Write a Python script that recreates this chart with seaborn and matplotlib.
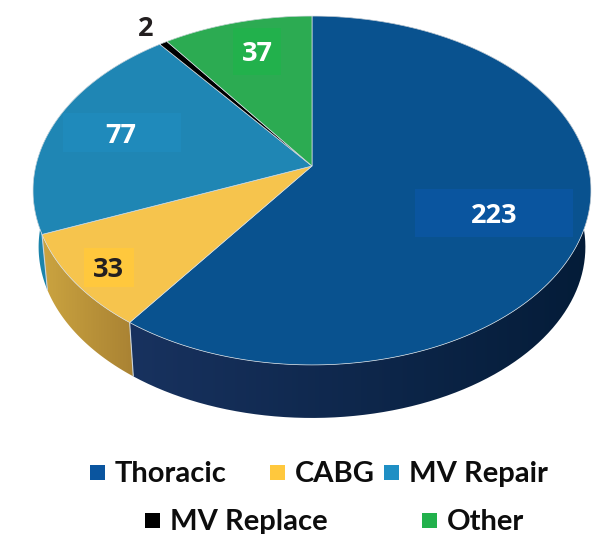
import numpy as np
import seaborn as sns
import matplotlib.pyplot as plt
from matplotlib.patches import Polygon, Rectangle

categories = ['Thoracic', 'CABG', 'MV Repair', 'MV Replace', 'Other']
values = [223, 33, 77, 2, 37]
value_labels = ['223', '33', '77', '2', '37']
top_colors = ['#09528f', '#f6c44d', '#1f86b4', '#000000', '#2cab52']
legend_colors = ['#0a559f', '#ffc83d', '#1f8fc4', '#000000', '#22b14c']
label_colors = ['white', '#231f20', 'white', '#231f20', 'white']
# wall gradient, left to right
wall_colors = [('#18325f', '#041c38'), ('#cba440', '#a98233'), ('#1c86ad', '#176f92'),
               ('#000000', '#000000'), ('#23883f', '#23883f')]

sns.set_theme(style='white')
plt.rcParams['font.family'] = ['Open Sans', 'DejaVu Sans']
palette = sns.color_palette(top_colors)

fig, ax = plt.subplots(figsize=(5.95, 5.34), dpi=100)
fig.subplots_adjust(0, 0, 1, 1)
ax.set_xlim(0, 595)
ax.set_ylim(534, 0)
ax.axis('off')

# perspective tilt of the disc
K, A, B = 0.1404, 276.2, 171.0


def project(deg, cx=312, cy=166, s=1.0):
    t = np.radians(deg)
    w = 1 + K * np.cos(t)
    return cx + s * A * np.sin(t) / w, cy - s * B * np.cos(t) / w


edges = np.concatenate([[0], np.cumsum(values)]) / sum(values) * 360

# side wall
for i in range(len(values)):
    t = np.linspace(edges[i], edges[i + 1], 120)
    x1, y1 = project(t)
    x2, y2 = project(t, cy=223, s=0.98)
    pts = np.r_[np.c_[x1, y1], np.c_[x2, y2][::-1]]
    left, right = wall_colors[i]
    cmap = sns.blend_palette([left, right], as_cmap=True)
    x0, x3 = pts[:, 0].min(), pts[:, 0].max()
    im = ax.imshow(np.linspace(0, 1, 256)[None, :], cmap=cmap, aspect='auto',
                   extent=(x0, x3, pts[:, 1].max(), pts[:, 1].min()), zorder=1)
    im.set_clip_path(Polygon(pts, transform=ax.transData))
    if i < 2:
        ax.plot([x2[-1], x1[-1]], [y2[-1], y1[-1]], color='#c9d3dc', lw=0.8, zorder=1.5)
ax.set_xlim(0, 595)
ax.set_ylim(534, 0)

# top face
for i in range(len(values)):
    t = np.linspace(edges[i], edges[i + 1], 200)
    x, y = project(t)
    ax.fill(np.r_[312, x], np.r_[166, y], color=palette[i], ec='#d5dde3', lw=0.5, zorder=2)

# lighter boxes behind the labels
boxes = [(415, 189, 158, 48, '#0a559f'), (84, 248, 50, 39, '#ffc83d'),
         (63, 113, 118, 39, '#1f8abb'), (233, 28, 48, 47, '#22b14c')]
for bx, by, bw, bh, c in boxes:
    ax.add_patch(Rectangle((bx, by), bw, bh, color=c, lw=0, zorder=3))

label_xy = [(494, 213), (108, 267), (121, 133), (146, 26), (257, 51)]
for (lx, ly), s, c in zip(label_xy, value_labels, label_colors):
    ax.text(lx, ly, s, color=c, fontsize=19.5, fontweight='bold', ha='center',
            va='center_baseline', zorder=4)

# legend, two uneven rows
legend_xy = [(90, 465), (270, 465), (384, 465), (145, 513), (422, 513)]
for (lx, ly), name, c in zip(legend_xy, categories, legend_colors):
    ax.add_patch(Rectangle((lx, ly), 15, 15, color=c, lw=0, zorder=3))
    ax.text(lx + 25, ly + 17, name, color='#0d0d0d', fontsize=21, fontweight='bold',
            family=['Lato', 'DejaVu Sans'], ha='left', va='baseline', zorder=4)

fig.savefig('out.png', dpi=100)
